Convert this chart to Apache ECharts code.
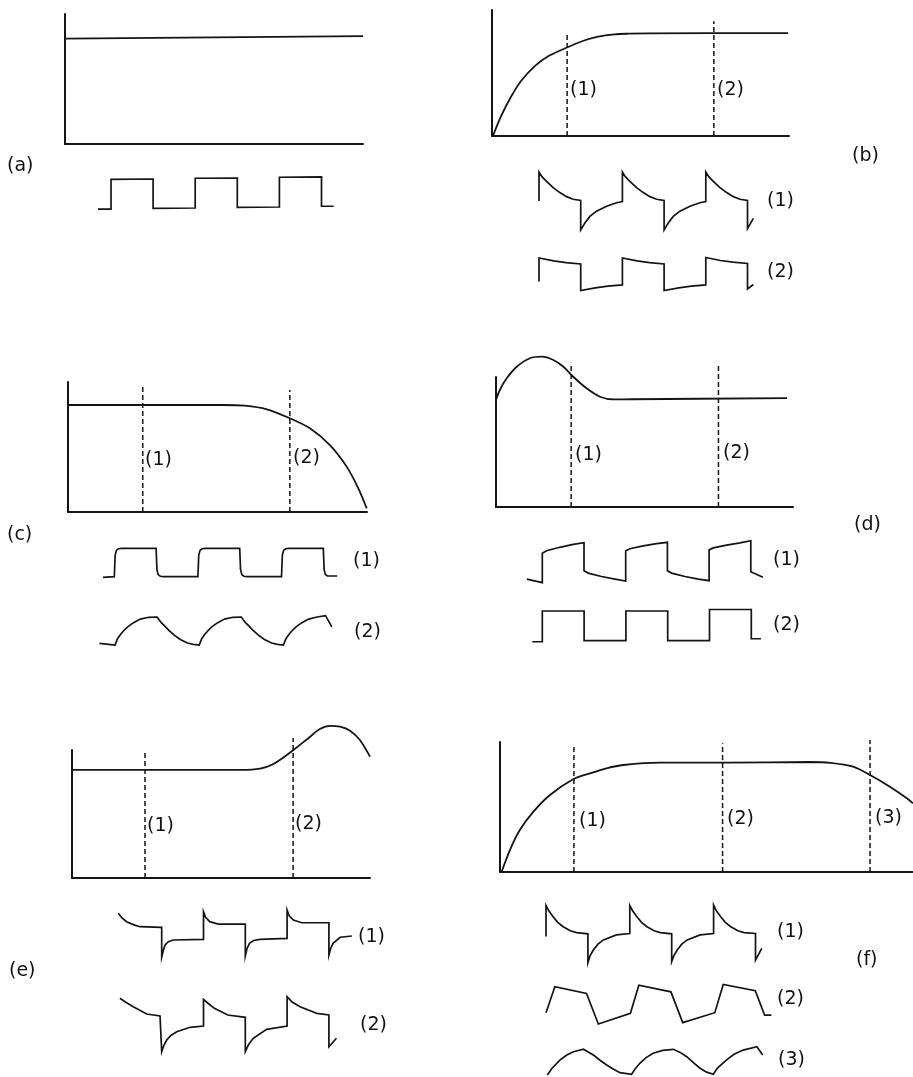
<!DOCTYPE html>
<html><head><meta charset="utf-8">
<script src="https://cdn.jsdelivr.net/npm/echarts@6/dist/echarts.min.js"></script>
<style>html,body{margin:0;padding:0;background:#fff}#c{width:913px;height:1077px}</style>
</head><body><div id="c"></div>
<script>
// ===== DATA =====
// panel captions and marker captions
const panelNames = ['(a)', '(b)', '(c)', '(d)', '(e)', '(f)'];
const markerNames = ['(1)', '(2)', '(3)'];

// frequency responses [frequency, gain] (axes 0..10)
const respA = [[0, 8.1], [10, 8.3]];
const respB = [[0.03, 0], [0.31, 1.6], [0.65, 3.15], [0.99, 4.4], [1.44, 5.55], [1.89, 6.33], [2.5, 7.0], [3.01, 7.5], [3.57, 7.88], [4.13, 8.07], [4.6, 8.12], [5.3, 8.15], [9.97, 8.17]];
const respC = [[0, 8.23], [5.2, 8.23], [5.9, 8.18], [6.65, 7.9], [7.42, 7.21], [8.09, 6.44], [8.76, 5.15], [9.32, 3.49], [9.71, 1.82], [9.99, 0.28]];
const respD = [[0, 8.23], [0.13, 9.0], [0.36, 9.9], [0.7, 10.79], [1.14, 11.44], [1.54, 11.56], [1.93, 11.31], [2.27, 10.79], [2.6, 10.02], [3.05, 9.13], [3.5, 8.48], [3.95, 8.28], [4.6, 8.29], [9.8, 8.38]];
const respE = [[0, 8.44], [5.7, 8.44], [6.31, 8.55], [6.76, 8.91], [7.43, 10.0], [7.99, 11.04], [8.32, 11.64], [8.66, 11.88], [8.99, 11.82], [9.33, 11.51], [9.66, 10.78], [10.0, 9.48]];
const respF = [[0.04, 0.02], [0.24, 1.69], [0.48, 3.23], [0.81, 4.64], [1.21, 5.92], [1.77, 7.13], [2.18, 7.59], [2.58, 7.98], [2.99, 8.23], [3.87, 8.41], [5.49, 8.41], [7.5, 8.46], [8.0, 8.4], [8.55, 8.1], [8.96, 7.46], [9.44, 6.56], [9.85, 5.67], [10.0, 5.28]];

// test frequencies [frequency, top of dashed line]
const markB = [[2.53, 8.2], [7.47, 9.1]];
const markC = [[2.5, 9.64], [7.42, 9.38]];
const markD = [[2.53, 11.1], [7.49, 10.95]];
const markE = [[2.45, 10.0], [7.42, 10.94]];
const markF = [[1.79, 9.64], [5.39, 9.9], [8.96, 10.15]];

// square-wave responses [time in half periods, level]
const waveA = [[-0.31, -1.08], [0, -1.08], [0, 0.98], [1, 1.0], [1, -1.02], [2, -1.0], [2, 1.05], [3, 1.07], [3, -0.95], [4, -0.93], [4, 1.12], [5, 1.14], [5, -0.88], [5.29, -0.88]];
const waveB1 = [[0, 0], [0, 1], [0.07, 0.84], [0.18, 0.68], [0.34, 0.46], [0.5, 0.29], [0.66, 0.15], [0.82, 0.06], [1, 0.02],
  [1, -1], [1.1, -0.76], [1.22, -0.53], [1.38, -0.35], [1.62, -0.18], [1.86, -0.06], [2, -0.02],
  [2, 1], [2.07, 0.84], [2.18, 0.68], [2.34, 0.46], [2.5, 0.29], [2.66, 0.15], [2.82, 0.06], [3, 0.02],
  [3, -1], [3.1, -0.76], [3.22, -0.53], [3.38, -0.35], [3.62, -0.18], [3.86, -0.06], [4, -0.02],
  [4, 1], [4.07, 0.84], [4.18, 0.68], [4.34, 0.46], [4.5, 0.29], [4.66, 0.15], [4.82, 0.06], [5, 0.02],
  [5, -0.95], [5.14, -0.6]];
const waveB2 = [[0, -0.5], [0, 1.07], [0.35, 0.88], [0.65, 0.76], [1, 0.67], [1, -1.1], [1.35, -0.93], [1.65, -0.81], [2, -0.73],
  [2, 1.07], [2.35, 0.88], [2.65, 0.76], [3, 0.67], [3, -1.1], [3.35, -0.93], [3.65, -0.81], [4, -0.73],
  [4, 1.1], [4.35, 0.9], [4.65, 0.79], [5, 0.7], [5, -1.0], [5.14, -0.7]];
const waveC1 = [[-0.27, -1.05], [0, -1], [0.02, 0.5], [0.05, 0.85], [0.1, 0.97], [0.18, 1], [1, 1],
  [1.02, -0.5], [1.05, -0.85], [1.1, -0.97], [1.18, -1], [2, -1],
  [2.02, 0.5], [2.05, 0.85], [2.1, 0.97], [2.18, 1], [3, 1],
  [3.02, -0.5], [3.05, -0.85], [3.1, -0.97], [3.18, -1], [4, -1],
  [4.02, 0.5], [4.05, 0.85], [4.1, 0.97], [4.18, 1], [5, 1],
  [5.02, -0.5], [5.05, -0.85], [5.1, -0.95], [5.18, -0.95], [5.33, -0.95]];
const waveC2 = [[-0.37, -0.88], [0, -1],
  [0.06, -0.55], [0.13, -0.25], [0.2, 0], [0.3, 0.3], [0.43, 0.58], [0.6, 0.85], [0.8, 0.98], [1, 1],
  [1.05, 0.78], [1.1, 0.6], [1.16, 0.42], [1.28, 0.05], [1.4, -0.28], [1.55, -0.6], [1.72, -0.86], [1.86, -0.96], [2, -1],
  [2.06, -0.55], [2.13, -0.25], [2.2, 0], [2.3, 0.3], [2.43, 0.58], [2.6, 0.85], [2.8, 0.98], [3, 1],
  [3.05, 0.78], [3.1, 0.6], [3.16, 0.42], [3.28, 0.05], [3.4, -0.28], [3.55, -0.6], [3.72, -0.86], [3.86, -0.96], [4, -1],
  [4.06, -0.55], [4.13, -0.25], [4.2, 0], [4.3, 0.3], [4.43, 0.58], [4.6, 0.85], [4.8, 1.0], [5, 1.1],
  [5.15, 0.3]];
const waveD1 = [[-0.37, -0.88], [0, -1.06], [0, 0.41], [0.1, 0.54], [0.42, 0.71], [0.74, 0.86], [1, 0.94],
  [1, -0.46], [1.1, -0.58], [1.42, -0.75], [1.74, -0.88], [2, -0.98],
  [2, 0.54], [2.1, 0.64], [2.42, 0.78], [2.74, 0.89], [3, 0.96],
  [3, -0.46], [3.1, -0.58], [3.42, -0.75], [3.74, -0.88], [4, -0.96],
  [4, 0.58], [4.1, 0.68], [4.42, 0.82], [4.74, 0.93], [5, 1.04],
  [5, -0.51], [5.29, -0.79]];
const waveD2 = [[-0.24, -1.05], [0, -1.05], [0, 1], [1, 1], [1, -0.98], [2, -0.98], [2, 1.0], [3, 1.0], [3, -0.98], [4, -0.98], [4, 1.1], [5, 1.1], [5, -0.85], [5.23, -0.85]];
const waveE1 = [[-1.04, 2.43], [-0.95, 1.8], [-0.84, 1.31], [-0.65, 0.85], [-0.52, 0.64], [0, 0.56],
  [0, -3.4], [0.04, -2.5], [0.08, -1.8], [0.16, -1.35], [0.28, -1.13], [1, -1.04],
  [1, 2.64], [1.05, 1.9], [1.15, 1.31], [1.35, 0.99], [2, 1.0],
  [2, -3.27], [2.04, -2.3], [2.1, -1.57], [2.2, -1.2], [2.35, -1.04], [3, -0.91],
  [3, 2.87], [3.05, 2.1], [3.15, 1.53], [3.35, 1.17], [4, 1.17],
  [4, -3.13], [4.04, -2.3], [4.1, -1.57], [4.27, -0.77], [4.55, -0.6]];
const waveE2 = [[-1.0, 2.32], [-0.85, 1.9], [-0.68, 1.48], [-0.36, 0.75], [-0.04, 0.55], [0, 0.55],
  [0, -3.02], [0.05, -2.4], [0.12, -1.85], [0.22, -1.4], [0.36, -1.02], [0.68, -0.58], [1, -0.45],
  [1, 2.22], [1.1, 1.85], [1.26, 1.32], [1.58, 0.65], [2, 0.42],
  [2, -3.02], [2.08, -2.3], [2.19, -1.68], [2.51, -0.78], [3, -0.45],
  [3, 2.48], [3.12, 1.95], [3.31, 1.48], [3.71, 0.82], [4, 0.65],
  [4, -2.52], [4.18, -1.68]];
const waveF1 = [[0, -0.11], [0, 1], [0.07, 0.8], [0.17, 0.6], [0.28, 0.4], [0.41, 0.24], [0.58, 0.1], [0.73, 0.03], [1, -0.01],
  [1, -1.04], [1.05, -0.8], [1.13, -0.59], [1.24, -0.38], [1.37, -0.23], [1.68, -0.05], [2, 0],
  [2, 1], [2.07, 0.8], [2.17, 0.6], [2.28, 0.4], [2.41, 0.24], [2.58, 0.1], [2.73, 0.03], [3, -0.01],
  [3, -1], [3.05, -0.8], [3.13, -0.59], [3.24, -0.38], [3.37, -0.23], [3.68, -0.05], [4, 0],
  [4, 1.02], [4.07, 0.8], [4.17, 0.6], [4.28, 0.4], [4.41, 0.24], [4.58, 0.1], [4.73, 0.03], [5, 0],
  [5, -0.95], [5.15, -0.53]];
const waveF2 = [[0, -0.42], [0.21, 0.91], [0.96, 0.57], [1.24, -1.0], [2.0, -0.45], [2.2, 0.99], [2.96, 0.65], [3.24, -0.93], [4.0, -0.42], [4.2, 1.03], [4.96, 0.71], [5.18, -0.54], [5.34, -0.54]];
const waveF3 = [[0, -1.04], [0.12, -0.5], [0.31, 0.12], [0.47, 0.5], [0.63, 0.75], [0.87, 0.94],
  [1.11, 0.5], [1.27, 0.1], [1.43, -0.27], [1.6, -0.6], [1.75, -0.86], [2.03, -0.98],
  [2.12, -0.55], [2.23, -0.14], [2.38, 0.3], [2.55, 0.63], [2.78, 0.85], [3.04, 0.94],
  [3.2, 0.7], [3.36, 0.37], [3.52, -0.08], [3.68, -0.52], [3.84, -0.82], [4.0, -0.98],
  [4.1, -0.5], [4.32, 0.12], [4.5, 0.55], [4.72, 0.88], [5.05, 1.14], [5.19, 0.5]];

// ===== LAYOUT (pixels) =====
const W = 913, H = 1077;
const mainBoxes = [
  { resp: respA, marks: [], left: 65, top: 14, width: 298, height: 130 },
  { resp: respB, marks: markB, left: 492, top: 10, width: 297, height: 126 },
  { resp: respC, marks: markC, left: 68, top: 382, width: 299, height: 130 },
  { resp: respD, marks: markD, left: 496, top: 377, width: 297, height: 130 },
  { resp: respE, marks: markE, left: 72, top: 750, width: 298, height: 128 },
  { resp: respF, marks: markF, left: 500, top: 742, width: 413, height: 130 }
];
// x0: pixel of t=0, xu: px per half period, y0: pixel of level 0, yu: px per level unit
const waveBoxes = [
  { data: waveA, x0: 111, xu: 42.1, y0: 193.5, yu: 14.5 },
  { data: waveB1, x0: 539, xu: 41.7, y0: 201, yu: 29 },
  { data: waveB2, x0: 539, xu: 41.7, y0: 274, yu: 15 },
  { data: waveC1, x0: 114.3, xu: 41.8, y0: 562.5, yu: 14.2 },
  { data: waveC2, x0: 115, xu: 42.1, y0: 631, yu: 14 },
  { data: waveD1, x0: 542.3, xu: 41.7, y0: 561.5, yu: 20 },
  { data: waveD2, x0: 542.3, xu: 41.8, y0: 626, yu: 15 },
  { data: waveE1, x0: 161.7, xu: 41.8, y0: 931.5, yu: 7.5 },
  { data: waveE2, x0: 161.7, xu: 41.8, y0: 1021.5, yu: 10 },
  { data: waveF1, x0: 546, xu: 41.9, y0: 933.5, yu: 28 },
  { data: waveF2, x0: 546, xu: 42.2, y0: 1004.5, yu: 19.5 },
  { data: waveF3, x0: 547.3, xu: 41.5, y0: 1061.5, yu: 13 }
];
// text labels: [text, left x, center y]
const textItems = [
  [panelNames[0], 7, 166], [panelNames[1], 852, 156], [panelNames[2], 7, 535],
  [panelNames[3], 854, 525], [panelNames[4], 9, 971], [panelNames[5], 856, 960],
  [markerNames[0], 570, 90], [markerNames[1], 717, 90],
  [markerNames[0], 767, 201], [markerNames[1], 767, 272],
  [markerNames[0], 145, 460], [markerNames[1], 293, 458],
  [markerNames[0], 353, 561], [markerNames[1], 354, 632],
  [markerNames[0], 575, 455], [markerNames[1], 723, 453],
  [markerNames[0], 773, 560], [markerNames[1], 773, 625],
  [markerNames[0], 147, 826], [markerNames[1], 295, 824],
  [markerNames[0], 358, 937], [markerNames[1], 360, 1025],
  [markerNames[0], 579, 821], [markerNames[1], 727, 819], [markerNames[2], 875, 818],
  [markerNames[0], 777, 932], [markerNames[1], 777, 999], [markerNames[2], 778, 1060]
];

// ===== BUILD OPTION =====
const INK = '#141414';
const grid = [], xAxis = [], yAxis = [], series = [];
const hidden = { show: false };

mainBoxes.forEach((b, i) => {
  grid.push({ left: b.left, top: b.top, width: b.width, height: b.height, containLabel: false });
  const axisLine = { show: true, onZero: false, lineStyle: { color: INK, width: 2 } };
  xAxis.push({ type: 'value', gridIndex: i, min: 0, max: 10, axisLine, axisTick: hidden, axisLabel: hidden, splitLine: hidden });
  yAxis.push({ type: 'value', gridIndex: i, min: 0, max: 10, axisLine, axisTick: hidden, axisLabel: hidden, splitLine: hidden });
  series.push({ type: 'line', xAxisIndex: i, yAxisIndex: i, data: b.resp, smooth: 0.3, symbol: 'none', clip: false,
    lineStyle: { color: INK, width: 1.8 }, silent: true });
  b.marks.forEach(m => {
    series.push({ type: 'line', xAxisIndex: i, yAxisIndex: i, data: [[m[0], 0], [m[0], m[1]]], symbol: 'none', clip: false,
      lineStyle: { color: INK, width: 1.5, type: [5, 3] }, silent: true });
  });
});

const XMIN = -1.5, XMAX = 6;
waveBoxes.forEach((w, k) => {
  const i = mainBoxes.length + k;
  // keep each grid inside the canvas (ECharts shrinks overflowing grids)
  const yr = Math.min(4, (H - w.y0) / w.yu - 0.01, w.y0 / w.yu - 0.01);
  grid.push({ left: w.x0 + XMIN * w.xu, width: (XMAX - XMIN) * w.xu, top: w.y0 - yr * w.yu, height: 2 * yr * w.yu, containLabel: false });
  xAxis.push({ type: 'value', gridIndex: i, min: XMIN, max: XMAX, show: false });
  yAxis.push({ type: 'value', gridIndex: i, min: -yr, max: yr, show: false });
  series.push({ type: 'line', xAxisIndex: i, yAxisIndex: i, data: w.data, symbol: 'none', clip: false,
    lineStyle: { color: INK, width: 1.7, join: 'miter' }, silent: true });
});

const graphic = textItems.map(t => ({
  type: 'text', x: t[1], y: t[2], silent: true,
  style: { text: t[0], font: '19px "DejaVu Sans"', fill: '#111111', verticalAlign: 'middle', align: 'left' }
}));

const chart = echarts.init(document.getElementById('c'), null, { renderer: 'canvas' });
chart.setOption({ animation: false, backgroundColor: '#ffffff', grid, xAxis, yAxis, series, graphic });
</script>
</body></html>
